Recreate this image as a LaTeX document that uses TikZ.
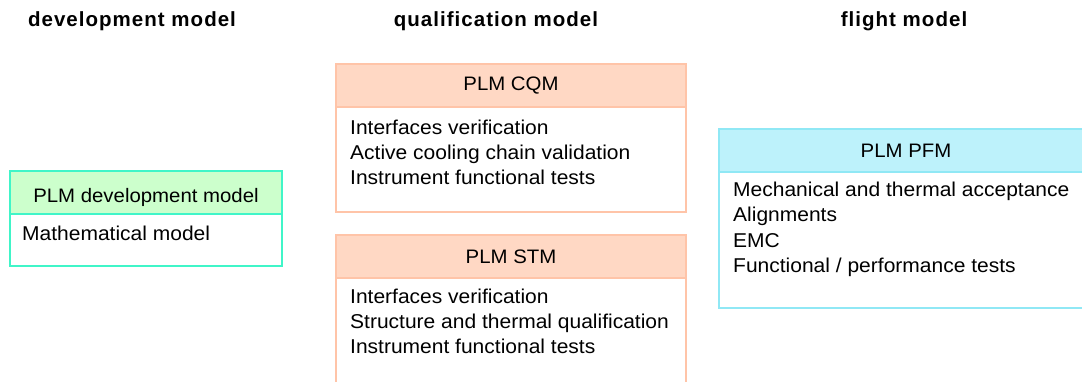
\documentclass[tikz,border=0pt]{standalone}
\usepackage{fontspec}
\setmainfont{Liberation Sans}
\usetikzlibrary{fit,positioning}
\definecolor{devline}{HTML}{40F5C8}
\definecolor{devfill}{HTML}{CCFFCC}
\definecolor{qualline}{HTML}{FFC4A8}
\definecolor{qualfill}{HTML}{FFD8C4}
\definecolor{fltline}{HTML}{90E8F5}
\definecolor{fltfill}{HTML}{BDF2FB}

\begin{document}
\begin{tikzpicture}[x=1pt,y=-1pt,
    title/.style={anchor=base,inner sep=0pt,
      font=\fontsize{20.5}{22}\selectfont\bfseries\addfontfeature{LetterSpace=5}},
    head/.style={minimum height=43pt,inner sep=0pt,outer sep=0pt,line width=1.8pt,
      font=\fontsize{19.5}{20}\selectfont\addfontfeature{FakeStretch=1.045}},
    items/.style={anchor=north west,inner sep=0pt,align=left,
      font=\fontsize{20}{25.2}\selectfont\addfontfeature{FakeStretch=1.05}},
    frame/.style={inner sep=0pt,outer sep=0pt,line width=1.8pt}
  ]
    \useasboundingbox (0,0) rectangle (1082,382);
    \clip (0,0) rectangle (1082,382);

    \path
    (132,27) node[title] (devtitle) {development model}
    (496,27) node[title] (qualtitle) {qualification model}
    (904,27) node[title] (flttitle) {flight model}
    ;

    % development model
    \path
    (146,192.5) node[head,minimum width=272pt,fill=devfill,draw=devline,
      text height=21pt,text depth=0pt] (dev) {PLM development model}
    (22,226) node[items] (devlist) {Mathematical model}
    (282,266) coordinate (devbot)
    ;
    \node[frame,draw=devline,fit=(dev) (devbot)] (devbox) {};

    % qualification models
    \path
    (511,85.5) node[head,minimum width=350pt,fill=qualfill,draw=qualline] (cqm) {PLM CQM}
    (350,119.5) node[items] (cqmlist) {Interfaces verification\\Active cooling chain validation\\Instrument functional tests}
    (686,212) coordinate (cqmbot)
    ;
    \node[frame,draw=qualline,fit=(cqm) (cqmbot)] (cqmbox) {};

    \path
    (511,256.5) node[head,minimum width=350pt,fill=qualfill,draw=qualline] (stm) {PLM STM}
    (350,288.5) node[items] (stmlist) {Interfaces verification\\Structure and thermal qualification\\Instrument functional tests}
    (686,400) coordinate (stmbot)
    ;
    \node[frame,draw=qualline,fit=(stm) (stmbot)] (stmbox) {};

    % flight model
    \path
    (906,150.5) node[head,minimum width=374pt,fill=fltfill,draw=fltline] (pfm) {PLM PFM}
    (733,182) node[items] (pfmlist) {Mechanical and thermal acceptance\\Alignments\\EMC\\Functional / performance tests}
    (1093,308) coordinate (pfmbot)
    ;
    \node[frame,draw=fltline,fit=(pfm) (pfmbot)] (pfmbox) {};
\end{tikzpicture}
\end{document}
